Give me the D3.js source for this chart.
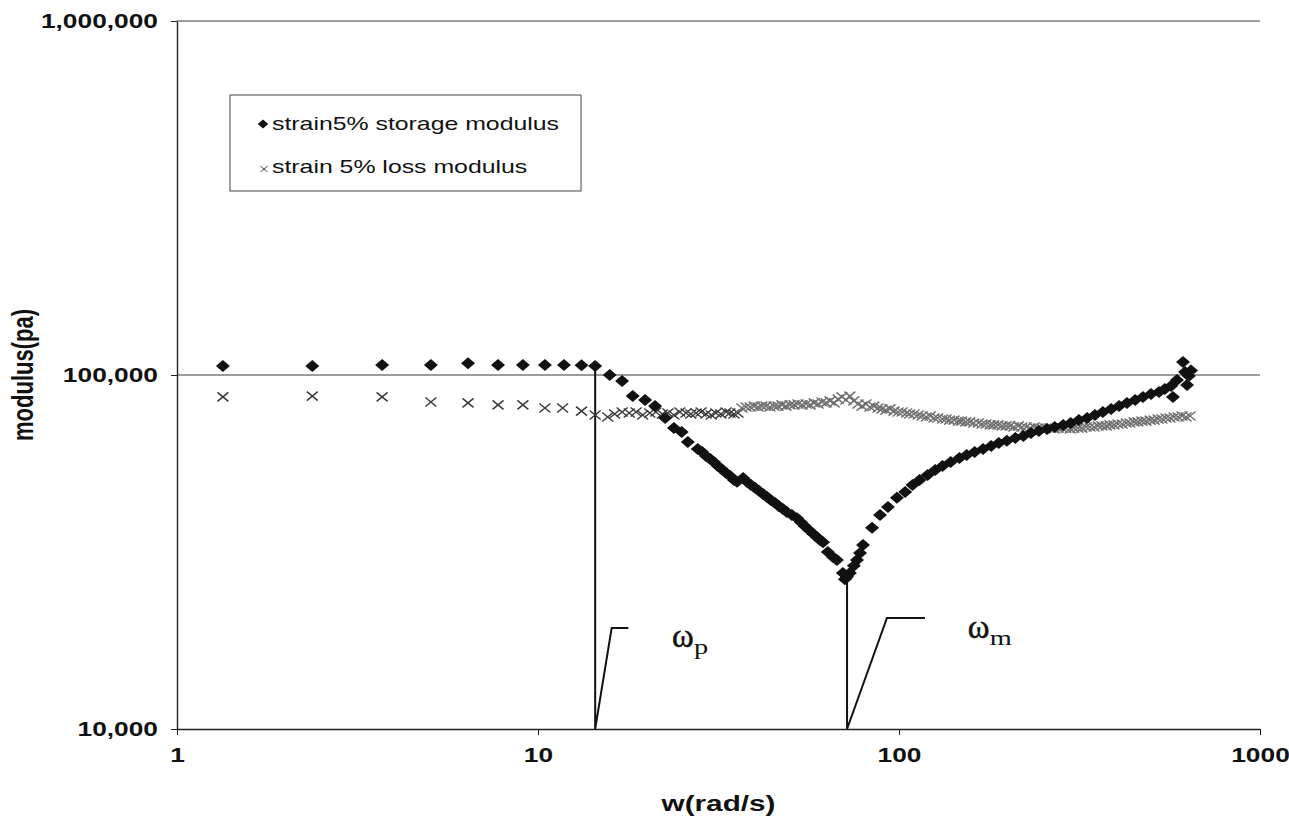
<!DOCTYPE html>
<html>
<head>
<meta charset="utf-8">
<script src="https://cdn.jsdelivr.net/npm/d3@7"></script>
<style>
  html, body { margin: 0; padding: 0; background: #fff; }
  svg { display: block; }
</style>
</head>
<body>
<div id="chart"></div>
<script>
// frequency sweep, strain 5%
const storageOmega = [1.34, 2.37, 3.70, 5.05, 6.40, 7.75, 9.08, 10.45, 11.8, 13.2, 14.4, 15.8, 17.1, 18.3, 19.8, 21.1, 22.5, 23.8, 25.0, 26.0,
    27.7, 28.5, 29.2, 30.0, 30.7, 31.5, 32.3, 33.2, 34.0, 34.9, 35.6, 37.0, 37.9, 38.9, 39.9, 41.0, 42.0, 43.1, 44.2, 45.4,
    46.5, 47.7, 48.9, 50.5, 52.2, 53.5, 54.9, 56.3, 57.8, 59.3, 60.4, 61.6, 63.5, 65.6, 67.3, 69.9, 70.8, 71.8, 73.1, 75.0,
    76.5, 78.0, 79.5, 84.2, 88.6, 93.2, 98.7, 104, 109, 114, 120, 126, 132, 139, 147, 154, 162, 171, 180, 189,
    199, 210, 221, 232, 244, 257, 270, 285, 299, 315, 332, 349, 367, 387, 407, 428, 451, 474, 499, 525,
    545, 567, 574, 589, 612, 620, 628, 635, 644]
const storageModulus = [106000, 106000, 106700, 106700, 108000, 106700, 106700, 106700, 106700, 106500, 106000, 100000, 96200, 87200, 85000, 81700, 75600, 70800, 69000, 64700,
    61800, 60600, 59000, 57900, 56800, 55300, 54200, 52900, 51900, 50500, 49900, 51200, 49900, 48900, 48000, 47000, 46100, 45200, 44300, 43500,
    42600, 41800, 41000, 40200, 39400, 38400, 37400, 36500, 35600, 34800, 34200, 33700, 31600, 30600, 30000, 27600, 26500, 26900, 27600, 28900,
    30000, 31400, 33100, 37000, 40200, 42400, 45000, 46700, 48900, 50500, 52200, 53900, 55300, 56800, 58300, 59400, 60600, 61800, 63000, 64300,
    65200, 66400, 67300, 68600, 69500, 70400, 71300, 72200, 73200, 74600, 75600, 77100, 78600, 80200, 81700, 83400, 85000, 86700, 88400, 89500,
    91300, 93100, 86700, 96800, 108800, 102000, 93700, 99300, 103000]

const lossOmega = [1.34, 2.37, 3.70, 5.05, 6.40, 7.75, 9.08, 10.45, 11.7, 13.2, 14.4, 15.6, 16.3, 17.1, 17.9, 18.7, 19.5, 20.4, 21.2, 22.1,
    22.9, 23.8, 24.7, 25.7, 26.5, 27.4, 28.3, 29.2, 30.2, 31.1, 32.1, 33.2, 34.0, 34.9, 35.8, 36.7, 37.7, 38.7, 39.7, 40.7,
    41.7, 42.8, 43.9, 45.1, 46.2, 47.4, 48.6, 49.9, 51.2, 52.5, 53.9, 55.3, 56.7, 58.2, 59.7, 61.2, 62.8, 64.4, 66.1, 67.8,
    69.5, 71.3, 73.1, 75.0, 77.0, 79.0, 81.0, 83.1, 85.2, 87.5, 89.7, 92.0, 94.4, 96.9, 99.4, 102, 105, 107, 110, 113,
    116, 119, 122, 125, 128, 132, 135, 138, 142, 146, 149, 153, 157, 161, 166, 170, 174, 179, 183, 188,
    193, 198, 203, 208, 214, 219, 225, 231, 237, 243, 249, 255, 262, 269, 276, 283, 290, 298, 305, 313,
    321, 330, 338, 347, 356, 365, 375, 384, 394, 404, 415, 426, 436, 448, 459, 471, 483, 496, 509, 522,
    535, 549, 563, 578, 593, 608, 624, 640]
const lossModulus = [86700, 87200, 86700, 83900, 83400, 82300, 82300, 80700, 80700, 79100, 77100, 76100, 77600, 78600, 78100, 78600, 77100, 78100, 78600, 77600,
    78100, 77100, 78600, 78100, 77600, 78100, 78600, 77600, 77100, 78100, 77600, 78600, 78100, 77600, 78100, 80700, 81200, 81200, 81700, 81200,
    81700, 81700, 81200, 81700, 81700, 82300, 81700, 82300, 82300, 82800, 82300, 82800, 82300, 83400, 82800, 83900, 83400, 84500, 83400, 85500,
    86700, 85000, 87200, 84500, 82800, 81700, 82800, 81200, 81700, 80700, 80200, 79600, 80200, 79100, 78600, 78600, 78100, 77600, 77600, 77100,
    76600, 76100, 76600, 75600, 75600, 75100, 75100, 74600, 74600, 74100, 74100, 73700, 73700, 73200, 73200, 72700, 72700, 72300, 72300, 72300,
    71800, 71800, 71800, 71300, 71800, 71300, 71300, 70800, 71300, 70800, 70800, 70800, 70800, 70400, 70800, 70800, 70800, 70400, 70800, 70800,
    70800, 71300, 71300, 71300, 71800, 71800, 71800, 72300, 72300, 72700, 72700, 73200, 73200, 73700, 73700, 74100, 74100, 74600, 74600, 75100,
    75100, 75600, 75600, 76100, 76100, 76600, 76100, 76600]

// marker lines for the two characteristic frequencies
const omegaPLine = [[14.4, 106000], [14.4, 10000], [16.0, 19300], [17.8, 19300]]
const omegaMLine = [[71.8, 26900], [71.8, 10000], [92.6, 20600], [118, 20600]]
const omegaLabels = [
    {main: "\u03c9", sub: "p", w: 23.5, g: 17100},
    {main: "\u03c9", sub: "m", w: 155, g: 18100},
]

const xTicks = [1, 10, 100, 1000]
const yTicks = [10000, 100000, 1000000]
const gridValues = [100000, 1000000]
const legendLabels = ["strain5% storage modulus", "strain 5% loss modulus"]

const SX = 1.35  // the scanned figure is stretched sideways
const sans = "'Liberation Sans', Arial, sans-serif"
const serif = "'Liberation Serif', 'Times New Roman', serif"

let dimensions = {
    width: 1289,
    height: 820,
    margin: {top: 21, right: 29, bottom: 91, left: 177},
}

const wrapper = d3.select("#chart")
    .append("svg")
    .attr("width", dimensions.width)
    .attr("height", dimensions.height)
const bounds = wrapper.append("g")

const xScale = d3.scaleLog()
    .domain([1, 1000])
    .range([dimensions.margin.left, dimensions.width - dimensions.margin.right])
const yScale = d3.scaleLog()
    .domain([10000, 1000000])
    .range([dimensions.height - dimensions.margin.bottom, dimensions.margin.top])

// gridlines
bounds.append("g")
    .selectAll("line")
    .data(gridValues)
    .join("line")
    .attr("x1", xScale(1))
    .attr("x2", xScale(1000))
    .attr("y1", d => yScale(d))
    .attr("y2", d => yScale(d))
    .attr("stroke", "#3a3a3a")
    .attr("stroke-width", 1)

// axes
const yAxis = bounds.append("g")
    .attr("transform", "translate(" + dimensions.margin.left + ",0)")
    .call(d3.axisLeft(yScale).tickValues(yTicks).tickFormat(d3.format(",")).tickSize(6).tickSizeOuter(0))
yAxis.selectAll("text")
    .attr("x", null)
    .attr("transform", "translate(-19,0) scale(" + SX + ",1)")
    .attr("font-family", sans)
    .attr("font-weight", "bold")
    .attr("font-size", 19.5)
    .attr("fill", "#111")

const xAxis = bounds.append("g")
    .attr("transform", "translate(0," + (dimensions.height - dimensions.margin.bottom) + ")")
    .call(d3.axisBottom(xScale).tickValues(xTicks).tickFormat(d3.format("d")).tickSize(6).tickSizeOuter(0))
xAxis.selectAll("text")
    .attr("y", null)
    .attr("transform", "translate(0,19) scale(" + SX + ",1)")
    .attr("font-family", sans)
    .attr("font-weight", "bold")
    .attr("font-size", 19.5)
    .attr("fill", "#111")

wrapper.selectAll(".domain").attr("stroke", "#222").attr("stroke-width", 1.4)
wrapper.selectAll(".tick line").attr("stroke", "#222")

// axis titles
bounds.append("text")
    .attr("transform", "translate(" + (dimensions.width - dimensions.margin.right + dimensions.margin.left) / 2 + ",811) scale(" + SX + ",1)")
    .attr("text-anchor", "middle")
    .attr("font-family", sans)
    .attr("font-weight", "bold")
    .attr("font-size", 22)
    .attr("fill", "#111")
    .text("w(rad/s)")
bounds.append("text")
    .attr("transform", "translate(33," + yScale(100000) + ") scale(" + SX + ",1) rotate(-90)")
    .attr("text-anchor", "middle")
    .attr("font-family", sans)
    .attr("font-weight", "bold")
    .attr("font-size", 22)
    .attr("fill", "#111")
    .text("modulus(pa)")

// frequency marker lines
const lineGenerator = d3.line()
    .x(d => xScale(d[0]))
    .y(d => yScale(d[1]))
bounds.selectAll(".marker-line")
    .data([omegaPLine, omegaMLine])
    .join("path")
    .attr("class", "marker-line")
    .attr("d", lineGenerator)
    .attr("fill", "none")
    .attr("stroke", "#111")
    .attr("stroke-width", 2)

// loss modulus: crosses
const crossPath = "M-5.5,-4.5L5.5,4.5M-5.5,4.5L5.5,-4.5"
const diamondPath = "M0,-6L7,0L0,6L-7,0Z"

const lossData = lossOmega.map((w, i) => ({w: w, g: lossModulus[i]}))
bounds.append("g")
    .selectAll("path")
    .data(lossData)
    .join("path")
    .attr("transform", d => "translate(" + xScale(d.w) + "," + yScale(d.g) + ")")
    .attr("d", crossPath)
    .attr("fill", "none")
    .attr("stroke", d => d.w > 36 ? "#707070" : "#3a3a3a")
    .attr("stroke-width", 1.5)

// storage modulus: diamonds
const storageData = storageOmega.map((w, i) => ({w: w, g: storageModulus[i]}))
bounds.append("g")
    .selectAll("path")
    .data(storageData)
    .join("path")
    .attr("transform", d => "translate(" + xScale(d.w) + "," + yScale(d.g) + ")")
    .attr("d", diamondPath)
    .attr("fill", "#111")

// omega labels: the omega itself is not stretched, the subscript is
omegaLabels.forEach(lab => {
    const x = xScale(lab.w)
    const y = yScale(lab.g)
    bounds.append("text")
        .attr("x", x)
        .attr("y", y)
        .attr("font-family", serif)
        .attr("font-size", 33)
        .attr("stroke", "#111")
        .attr("stroke-width", 0.5)
        .attr("fill", "#111")
        .text(lab.main)
    bounds.append("text")
        .attr("transform", "translate(" + (x + 22) + "," + (y + 7) + ") scale(" + SX + ",1)")
        .attr("font-family", serif)
        .attr("font-size", 21)
        .attr("fill", "#111")
        .text(lab.sub)
})

// legend
const legend = bounds.append("g")
legend.append("rect")
    .attr("x", 230)
    .attr("y", 95)
    .attr("width", 351)
    .attr("height", 96)
    .attr("fill", "#fff")
    .attr("stroke", "#444")
    .attr("stroke-width", 1)
legend.append("path")
    .attr("transform", "translate(263,124) scale(0.75)")
    .attr("d", diamondPath)
    .attr("fill", "#111")
legend.append("path")
    .attr("transform", "translate(264,169) scale(0.65)")
    .attr("d", crossPath)
    .attr("fill", "none")
    .attr("stroke", "#444")
    .attr("stroke-width", 1.5)
legend.selectAll(".legend-label")
    .data(legendLabels)
    .join("text")
    .attr("class", "legend-label")
    .attr("transform", (d, i) => "translate(272," + (130 + i * 43) + ") scale(" + SX + ",1)")
    .attr("font-family", sans)
    .attr("font-size", 18.4)
    .attr("fill", "#111")
    .text(d => d)
</script>
</body>
</html>
